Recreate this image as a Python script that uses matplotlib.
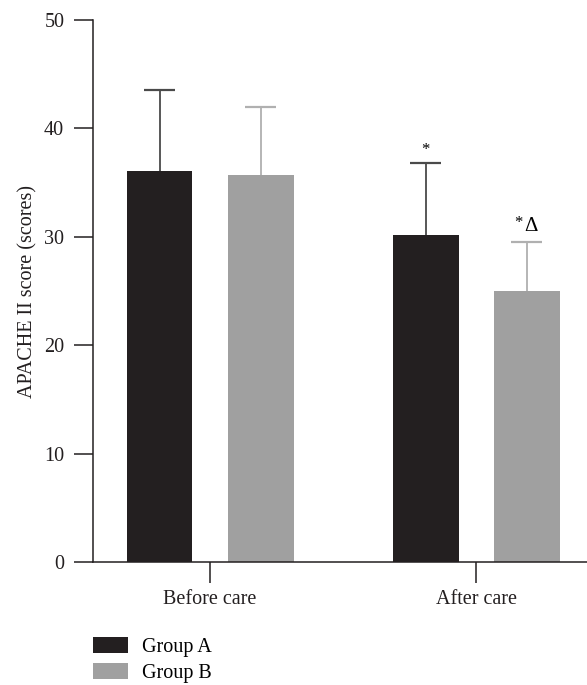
import matplotlib
matplotlib.use("Agg")
import matplotlib.pyplot as plt
import numpy as np
from matplotlib.patches import Patch

plt.rcParams['font.family'] = ['Liberation Serif', 'DejaVu Serif']

categories = ["Before care", "After care"]
groups = ["Group A", "Group B"]
means_a = [36.1, 30.2]
sd_a = [7.4, 6.6]
means_b = [35.7, 25.0]
sd_b = [6.3, 4.5]
annot_a = ["", "*"]
annot_b = ["", "*Δ"]

col_a = "#231f20"
col_b = "#a0a0a0"
err_a = "#4a4a4a"
err_b = "#b0b0b0"

fig = plt.figure(figsize=(5.87, 6.85), dpi=100)
ax = fig.add_axes([93/587, 1-562/685, (587-93)/587, (562-20)/685])

x = np.arange(len(categories))
off = 0.19
w = 0.248
cap = 0.058
ax.bar(x - off, means_a, w, color=col_a, zorder=2)
ax.bar(x + off, means_b, w, color=col_b, zorder=2)

top_a = np.array(means_a) + np.array(sd_a)
top_b = np.array(means_b) + np.array(sd_b)
ax.vlines(x - off, means_a, top_a, color=err_a, linewidth=1.3, zorder=1)
ax.hlines(top_a, x - off - cap, x - off + cap, color=err_a, linewidth=1.6, zorder=1)
ax.vlines(x + off, means_b, top_b, color=err_b, linewidth=1.3, zorder=1)
ax.hlines(top_b, x + off - cap, x + off + cap, color=err_b, linewidth=1.6, zorder=1)

for i in range(2):
    if annot_a[i]:
        ax.text(x[i] - off, top_a[i] + 0.5, annot_a[i], ha='center', va='bottom', fontsize=12)
    if annot_b[i]:
        ax.text(x[i] + off - 0.032, top_b[i] + 1.0, annot_b[i][0], ha='center', va='bottom', fontsize=12)
        ax.text(x[i] + off + 0.015, top_b[i] + 0.6, annot_b[i][1], ha='center', va='bottom', fontsize=15)

ax.set_xlim(-0.44, 1.417)
ax.set_ylim(0, 50)
ax.set_yticks([0, 10, 20, 30, 40, 50])
ax.set_xticks(x)
ax.set_xticklabels(categories)
for s in ['top', 'right']:
    ax.spines[s].set_visible(False)
for s in ['left', 'bottom']:
    ax.spines[s].set_linewidth(1.1)
    ax.spines[s].set_color("#231f20")
ax.tick_params(axis='y', length=13.7, width=1.1, pad=7, labelsize=14.5, colors="#231f20")
ax.tick_params(axis='x', length=15, width=1.1, pad=5, labelsize=14.5, colors="#231f20")
ax.set_ylabel("APACHE II score (scores)", fontsize=14.5, labelpad=5, color="#231f20")

handles = [Patch(facecolor=col_a), Patch(facecolor=col_b)]
fig.legend(handles, groups, loc='upper left', bbox_to_anchor=(93/587, 1-637/685),
           frameon=False, fontsize=14.5, handlelength=1.75, handleheight=0.85,
           labelspacing=0.28, handletextpad=0.7, borderaxespad=0, borderpad=0)

fig.savefig("out.png", dpi=100)
